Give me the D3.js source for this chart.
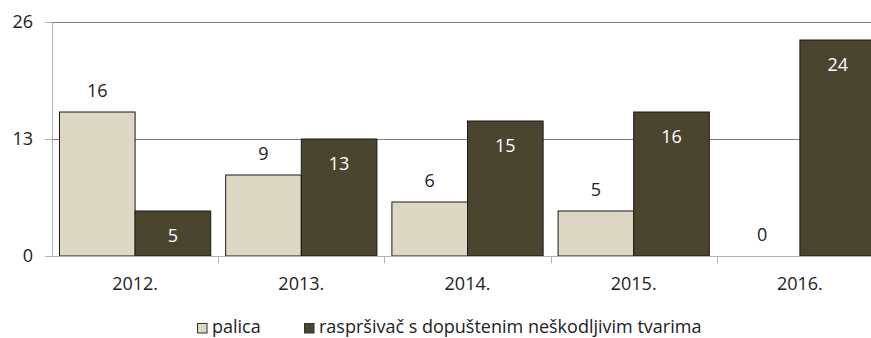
<!DOCTYPE html>
<html>
<head>
<meta charset="utf-8">
<script src="https://cdn.jsdelivr.net/npm/d3@7"></script>
<style>
  html, body { margin: 0; padding: 0; background: #fff; }
  svg { display: block; }
  text { font-family: "Open Sans", Lato, sans-serif; fill: #222; }
</style>
</head>
<body>
<svg id="chart" width="871" height="338"></svg>
<script>
// Yearly counts by method
const years = ["2012.", "2013.", "2014.", "2015.", "2016."];
const seriesNames = ["palica", "raspršivač s dopuštenim neškodljivim tvarima"];
const palica = [16, 9, 6, 5, 0];
const rasprsivac = [5, 13, 15, 16, 24];
const yTicks = [0, 13, 26];

const colors = ["#DDD8C3", "#4A452F"];
const series = [palica, rasprsivac];
const fontFamily = "'Open Sans', Lato, sans-serif";
const fontSize = 18;

const svg = d3.select("#chart");
const margin = { left: 52, top: 22, right: -12, bottom: 82 };
const width = 871, height = 338;

const x = d3.scaleBand()
  .domain(years)
  .range([margin.left, width - margin.right])
  .paddingInner(0.09)
  .paddingOuter(0.045);

// outer band for category boundaries
const xCat = d3.scaleBand()
  .domain(years)
  .range([margin.left, width - margin.right]);

const xSub = d3.scaleBand()
  .domain([0, 1])
  .range([0, x.bandwidth()]);

const y = d3.scaleLinear()
  .domain([0, 26])
  .range([height - margin.bottom, margin.top]);

// horizontal gridlines
svg.append("g")
  .selectAll("line")
  .data(yTicks.filter(d => d > 0))
  .join("line")
  .attr("x1", margin.left)
  .attr("x2", width)
  .attr("y1", d => Math.round(y(d)) + 0.5)
  .attr("y2", d => Math.round(y(d)) + 0.5)
  .attr("stroke", "#7f7f7f")
  .attr("stroke-width", 1.2);

// bars and value labels
years.forEach((yr, i) => {
  series.forEach((vals, s) => {
    const v = vals[i];
    const bx = x(yr) + xSub(s);
    if (v > 0) {
      svg.append("rect")
        .attr("x", bx)
        .attr("y", y(v))
        .attr("width", xSub.bandwidth())
        .attr("height", y(0) - y(v))
        .attr("fill", colors[s])
        .attr("stroke", "#1a1a1a")
        .attr("stroke-width", 1);
    }
    const cx = bx + xSub.bandwidth() / 2;
    const t = svg.append("text")
      .attr("x", cx)
      .attr("text-anchor", "middle")
      .attr("font-size", fontSize)
      .text(v);
    if (s === 0) {
      t.attr("y", y(v) - 15);
    } else {
      t.attr("y", y(v) + 31).style("fill", "#fff");
    }
  });
});

// y axis
const yAxis = svg.append("g")
  .attr("transform", `translate(${margin.left},0)`)
  .call(d3.axisLeft(y).tickValues(yTicks).tickSize(7).tickPadding(12));
yAxis.select(".domain").attr("stroke", "#b3b3b3");
yAxis.selectAll(".tick line").attr("stroke", "#b3b3b3");
yAxis.selectAll(".tick text")
  .attr("font-size", fontSize)
  .attr("font-family", fontFamily)
  .style("fill", "#222");

// x axis baseline and category boundary ticks
const x0 = Math.round(y(0)) + 0.5;
svg.append("line")
  .attr("x1", margin.left).attr("x2", width)
  .attr("y1", x0).attr("y2", x0)
  .attr("stroke", "#b3b3b3");
svg.append("g")
  .selectAll("line")
  .data(years.slice(1))
  .join("line")
  .attr("x1", d => Math.round(xCat(d)) + 0.5)
  .attr("x2", d => Math.round(xCat(d)) + 0.5)
  .attr("y1", x0)
  .attr("y2", x0 + 7)
  .attr("stroke", "#b3b3b3");

svg.append("g")
  .selectAll("text")
  .data(years)
  .join("text")
  .attr("x", d => xCat(d) + xCat.bandwidth() / 2)
  .attr("y", 290)
  .attr("text-anchor", "middle")
  .attr("font-size", fontSize)
  .text(d => d);

// legend
const legendItems = [
  { name: seriesNames[0], color: colors[0], x: 197 },
  { name: seriesNames[1], color: colors[1], x: 304 }
];
const lg = svg.append("g");
legendItems.forEach(it => {
  lg.append("rect")
    .attr("x", it.x + 0.5).attr("y", 323.5)
    .attr("width", 9.5).attr("height", 9.5)
    .attr("fill", it.color)
    .attr("stroke", "#333").attr("stroke-width", 1);
  lg.append("text")
    .attr("x", it.x + 15).attr("y", 333)
    .attr("font-size", fontSize)
    .text(it.name);
});
</script>
</body>
</html>
